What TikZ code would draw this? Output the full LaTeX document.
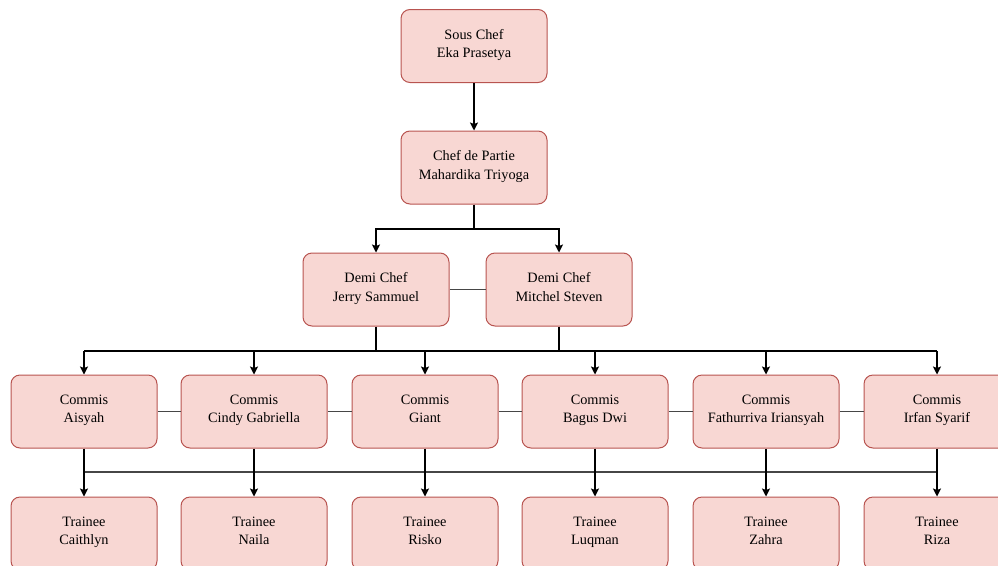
\documentclass[tikz,border=0pt]{standalone}
\usepackage{fontspec}
\setmainfont{Liberation Serif}
\usepackage{tikz}
\usetikzlibrary{arrows.meta, positioning, calc}
\definecolor{boxfill}{RGB}{248, 215, 211}
\definecolor{boxline}{RGB}{184, 84, 80}
\definecolor{linkgray}{RGB}{70, 70, 70}

\begin{document}
\begin{tikzpicture}[
  x=1pt,
  y=-1pt,
  font=\fontsize{14.3}{18.5}\selectfont,
  staff/.style={draw=boxline, fill=boxfill, line width=1pt, rounded corners=9pt,
                minimum width=146pt, minimum height=73pt, align=center, inner sep=2pt,
                execute at begin node=\rule{0pt}{19pt}, execute at end node=\strut},
  link/.style={line width=1.2pt, linkgray},
  feed/.style={line width=1.2pt, black, -{Stealth[length=8pt, width=8pt, inset=1.5pt]}},
  bus/.style={line width=1.2pt, black}
]

\useasboundingbox (0,0) rectangle (998,565);

% kitchen heads
\node[staff] (sous) at (474, 46)    {Sous Chef\\Eka Prasetya};
\node[staff] (cdp)  at (474, 167.5) {Chef de Partie\\Mahardika Triyoga};

\node[staff] (demiA) at (376, 289.5) {Demi Chef\\Jerry Sammuel};
\node[staff] (demiB) at (559, 289.5) {Demi Chef\\Mitchel Steven};

% commis row
\node[staff] (comA) at (84,  411.5) {Commis\\Aisyah};
\node[staff] (comB) at (254, 411.5) {Commis\\Cindy Gabriella};
\node[staff] (comC) at (425, 411.5) {Commis\\Giant};
\node[staff] (comD) at (595, 411.5) {Commis\\Bagus Dwi};
\node[staff] (comE) at (766, 411.5) {Commis\\Fathurriva Iriansyah};
\node[staff] (comF) at (937, 411.5) {Commis\\Irfan Syarif};

% trainee row
\node[staff] (trA) at (84,  533.5) {Trainee\\Caithlyn};
\node[staff] (trB) at (254, 533.5) {Trainee\\Naila};
\node[staff] (trC) at (425, 533.5) {Trainee\\Risko};
\node[staff] (trD) at (595, 533.5) {Trainee\\Luqman};
\node[staff] (trE) at (766, 533.5) {Trainee\\Zahra};
\node[staff] (trF) at (937, 533.5) {Trainee\\Riza};

\draw[feed] (sous.south) -- (cdp.north);

\coordinate (split) at (474, 229);
\draw[bus] (cdp.south) -- (split);
\draw[feed] (split) -| (demiA.north);
\draw[feed] (split) -| (demiB.north);

\draw[link] (demiA.east) -- (demiB.west);

\coordinate (busL) at (84, 351);
\coordinate (busR) at (937, 351);
\draw[bus] (demiA.south) -- (demiA.south |- busL);
\draw[bus] (demiB.south) -- (demiB.south |- busL);
\draw[bus] (busL) -- (busR);
\foreach \c in {comA, comB, comC, comD, comE, comF} {
  \draw[feed] (\c.north |- busL) -- (\c.north);
}

\draw[link] (comA.east) -- (comB.west);
\draw[link] (comB.east) -- (comC.west);
\draw[link] (comC.east) -- (comD.west);
\draw[link] (comD.east) -- (comE.west);
\draw[link] (comE.east) -- (comF.west);

\coordinate (lowL) at (84, 472);
\coordinate (lowR) at (937, 472);
\draw[link] (lowL) -- (lowR);
\draw[feed] (comA.south) -- (trA.north);
\draw[feed] (comB.south) -- (trB.north);
\draw[feed] (comC.south) -- (trC.north);
\draw[feed] (comD.south) -- (trD.north);
\draw[feed] (comE.south) -- (trE.north);
\draw[feed] (comF.south) -- (trF.north);

\end{tikzpicture}
\end{document}
